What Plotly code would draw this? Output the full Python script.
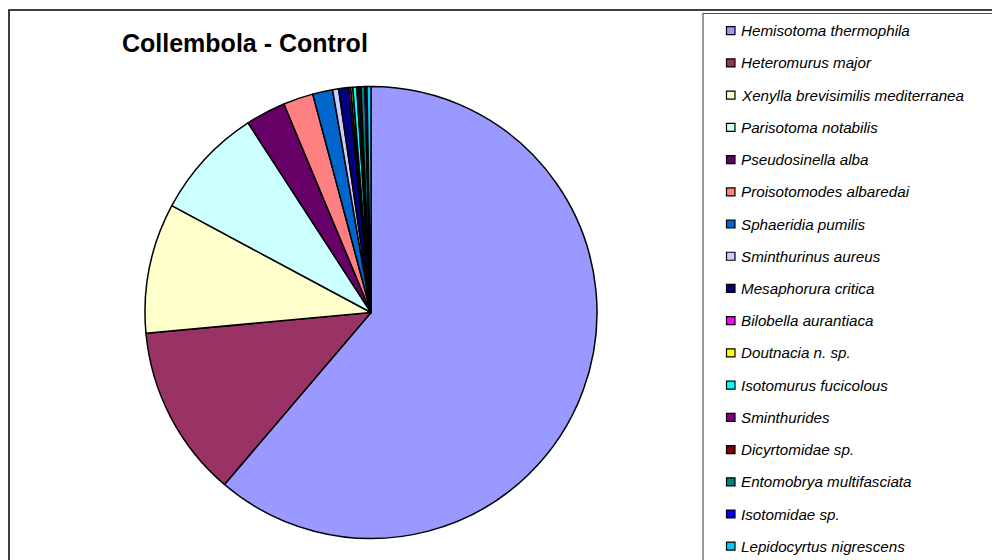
import plotly.graph_objects as go

species = [
    "Hemisotoma thermophila", "Heteromurus major", "Xenylla brevisimilis mediterranea",
    "Parisotoma notabilis", "Pseudosinella alba", "Proisotomodes albaredai",
    "Sphaeridia pumilis", "Sminthurinus aureus", "Mesaphorura critica",
    "Bilobella aurantiaca", "Doutnacia n. sp.", "Isotomurus fucicolous",
    "Sminthurides", "Dicyrtomidae sp.", "Entomobrya multifasciata",
    "Isotomidae sp.", "Lepidocyrtus nigrescens",
]
counts = [428, 86, 65, 56, 20, 15, 10, 3, 5, 1, 1, 2, 1, 1, 2, 1, 2]
colors = [
    "#9999FF", "#993366", "#FFFFCC", "#CCFFFF", "#660066", "#FF8080",
    "#0066CC", "#CCCCFF", "#000080", "#FF00FF", "#FFFF00", "#00FFFF",
    "#800080", "#800000", "#008080", "#0000FF", "#00CCFF",
]
title_text = "Collembola - Control"

W, H = 992, 560
FONT = "Liberation Sans, Arial, sans-serif"

def px(x):
    return x / W

def py(y):
    return 1 - y / H

cx, cy, r = 371, 312.5, 226

fig = go.Figure()
fig.add_trace(go.Pie(
    labels=species, values=counts, sort=False, direction="clockwise", rotation=0,
    marker=dict(colors=colors, line=dict(color="black", width=1.5)),
    textinfo="none", hoverinfo="label+value+percent", showlegend=False,
    domain=dict(x=[px(cx - r), px(cx + r)], y=[py(cy + r), py(cy - r)]),
))

shapes = [
    dict(type="rect", xref="paper", yref="paper", x0=px(9), x1=px(1010), y0=py(10), y1=py(600),
         line=dict(color="black", width=1.5), fillcolor="rgba(0,0,0,0)", layer="above"),
    dict(type="rect", xref="paper", yref="paper", x0=px(703), x1=px(1010), y0=py(13.5), y1=py(600),
         line=dict(color="#555555", width=1.2), fillcolor="rgba(0,0,0,0)", layer="above"),
]
annotations = [
    dict(text="<b>" + title_text + "</b>", x=px(245), y=py(43), xref="paper", yref="paper",
         showarrow=False, xanchor="center", yanchor="middle",
         font=dict(family=FONT, size=25, color="black")),
]
y0, dy = 30.7, 32.22
for i, (name, col) in enumerate(zip(species, colors)):
    yc = y0 + i * dy
    shapes.append(dict(type="rect", xref="paper", yref="paper",
                       x0=px(726.5), x1=px(735), y0=py(yc + 4), y1=py(yc - 4),
                       fillcolor=col, line=dict(color="black", width=1.2), layer="above"))
    annotations.append(dict(text="<i>" + name + "</i>", x=px(739), y=py(yc), xref="paper", yref="paper",
                            showarrow=False, xanchor="left", yanchor="middle",
                            font=dict(family=FONT, size=15.2, color="black")))

fig.update_layout(
    width=W, height=H, margin=dict(l=0, r=0, t=0, b=0),
    paper_bgcolor="white", plot_bgcolor="white",
    shapes=shapes, annotations=annotations, showlegend=False,
)
fig.write_html("out.html", config={"displayModeBar": False},
               post_script="document.body.style.margin='0px';document.body.style.overflow='hidden';")
